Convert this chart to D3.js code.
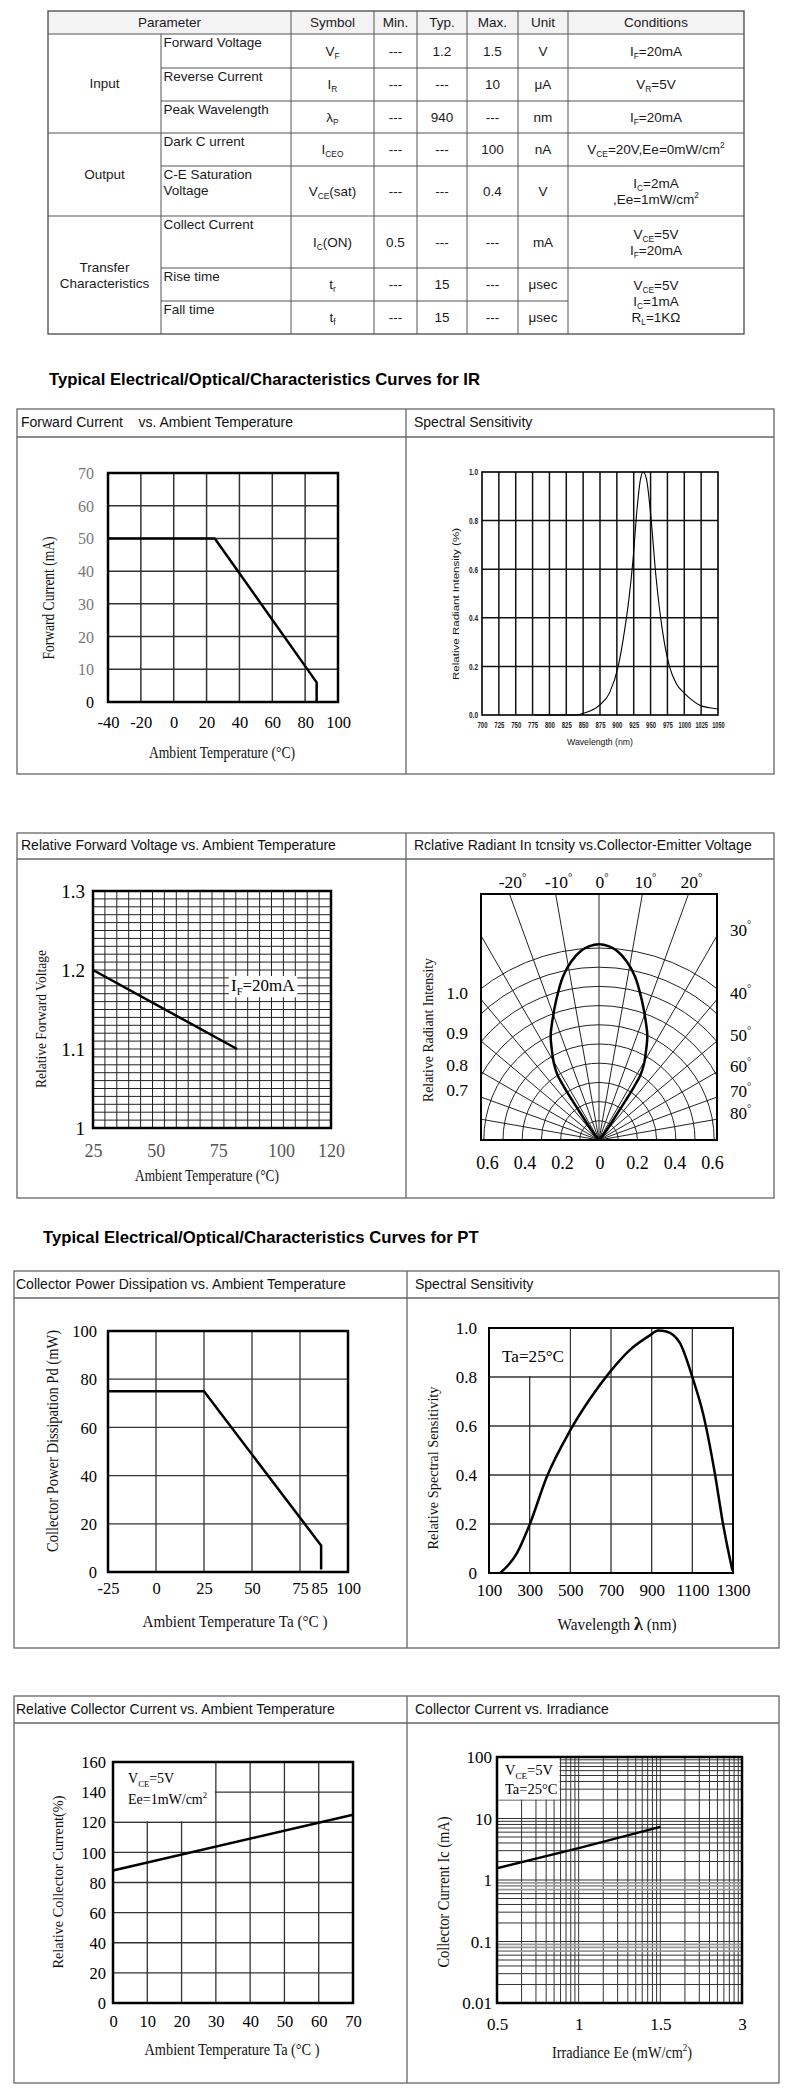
<!DOCTYPE html>
<meta charset="utf-8">
<body style="margin:0;background:#fff">
<script src="https://d3js.org/d3.v7.min.js"></script>
<div id="sheet"></div>
<script>

// ---------- table data ----------
var tableHead = ["Parameter", "Symbol", "Min.", "Typ.", "Max.", "Unit", "Conditions"];
var groupNames = ["Input", "Output", "Transfer|Characteristics"];
var groupSpans = [3, 2, 3];
var paramNames = ["Forward Voltage", "Reverse Current", "Peak Wavelength", "Dark C urrent",
                  "C-E Saturation|Voltage", "Collect Current", "Rise time", "Fall time"];
var symbols = ["V_{F}", "I_{R}", "λ_{P}", "I_{CEO}", "V_{CE}(sat)", "I_{C}(ON)", "t_{r}", "t_{f}"];
var minVals = ["---", "---", "---", "---", "---", "0.5", "---", "---"];
var typVals = ["1.2", "---", "940", "---", "---", "---", "15", "15"];
var maxVals = ["1.5", "10", "---", "100", "0.4", "---", "---", "---"];
var units = ["V", "μA", "nm", "nA", "V", "mA", "μsec", "μsec"];
var conditions = ["I_{F}=20mA", "V_{R}=5V", "I_{F}=20mA", "V_{CE}=20V,Ee=0mW/cm^{2}",
                  "I_{C}=2mA|,Ee=1mW/cm^{2}", "V_{CE}=5V|I_{F}=20mA", "V_{CE}=5V|I_{C}=1mA|R_{L}=1KΩ"];
var conditionSpans = [1, 1, 1, 1, 1, 1, 2];

// ---------- chart data ----------
// IR: forward current vs ambient temperature
var fcTemp = [-40, 25, 87, 87];
var fcCurrent = [50, 50, 6, 0];
var fcTicksX = [-40, -20, 0, 20, 40, 60, 80, 100];
var fcTicksY = [0, 10, 20, 30, 40, 50, 60, 70];

// IR: spectral sensitivity
var irWave = [778, 840, 850, 874, 889, 902, 911, 918, 924, 930, 935, 939, 944, 950, 958, 968, 978, 988, 1000, 1012, 1023, 1037, 1050];
var irRel  = [0, 0, 0.007, 0.04, 0.09, 0.2, 0.34, 0.48, 0.64, 0.85, 0.97, 1.0, 0.97, 0.83, 0.57, 0.34, 0.2, 0.13, 0.09, 0.06, 0.04, 0.03, 0.025];
var irTicksX = [700, 725, 750, 775, 800, 825, 850, 875, 900, 925, 950, 975, 1000, 1025, 1050];
var irTicksY = [0, 0.2, 0.4, 0.6, 0.8, 1.0];

// IR: relative forward voltage vs ambient temperature
var fvTemp = [25, 82.5];
var fvRel = [1.2, 1.1];
var fvTicksX = [25, 50, 75, 100, 120];
var fvTicksY = [1, 1.1, 1.2, 1.3];

// IR: radiation diagram (one side, mirrored)
var lobeAngle = [0, 3, 5.4, 8.9, 12.5, 17.1, 21.7, 24.8, 27.6, 30.6, 32.6, 33.4, 34, 34.7, 37.9, 40];
var lobeRel   = [1.02, 1.01, 0.99, 0.94, 0.87, 0.76, 0.66, 0.6, 0.53, 0.46, 0.4, 0.33, 0.25, 0.165, 0.06, 0];
var polTopAngles = [-20, -10, 0, 10, 20];
var polRightAngles = [30, 40, 50, 60, 70, 80];
var polLeftTicks = [0.7, 0.8, 0.9, 1.0];
var polBottomTicks = [-0.6, -0.4, -0.2, 0, 0.2, 0.4, 0.6];

// PT: collector power dissipation vs ambient temperature
var pdTemp = [-25, 25, 86, 86];
var pdPower = [75, 75, 11, 1];
var pdTicksX = [-25, 0, 25, 50, 75, 85, 100];
var pdTicksY = [0, 20, 40, 60, 80, 100];

// PT: spectral sensitivity
var ptWave = [155, 236, 301, 383, 498, 596, 694, 792, 891, 932, 972, 1038, 1100, 1153, 1210, 1251, 1297];
var ptRel  = [0, 0.079, 0.2, 0.39, 0.58, 0.71, 0.82, 0.91, 0.97, 0.99, 0.986, 0.94, 0.8, 0.65, 0.41, 0.2, 0.01];
var ptTicksX = [100, 300, 500, 700, 900, 1100, 1300];
var ptTicksY = [0, 0.2, 0.4, 0.6, 0.8, 1.0];

// PT: relative collector current vs ambient temperature
var rcTemp = [0, 70];
var rcRel = [88, 125];
var rcTicksX = [0, 10, 20, 30, 40, 50, 60, 70];
var rcTicksY = [0, 20, 40, 60, 80, 100, 120, 140, 160];

// PT: collector current vs irradiance
var irrEe = [0.5, 1, 1.5];
var irrIc = [1.55, 3.3, 7.3];
var irrTicksX = [0.5, 1, 1.5, 3];
var irrTicksY = [0.01, 0.1, 1, 10, 100];

// ---------- setup ----------
var SERIF = "'Liberation Serif','Times New Roman',serif";
var SANS = "'Liberation Sans',Arial,sans-serif";

var svg = d3.select("#sheet").append("svg")
  .attr("width", 790).attr("height", 2094).style("display", "block");
svg.append("rect").attr("width", 790).attr("height", 2094).attr("fill", "#fff");

// text with _{sub} and ^{sup}
function rich(t, str, fs) {
  var off = 0;
  str.split(/(_\{[^}]*\}|\^\{[^}]*\})/).forEach(function(p) {
    if (!p) return;
    var target = 0, s = p, small = false;
    if (p.slice(0, 2) === "_{") { target = fs * 0.25; s = p.slice(2, -1); small = true; }
    else if (p.slice(0, 2) === "^{") { target = -fs * 0.42; s = p.slice(2, -1); small = true; }
    var ts = t.append("tspan").attr("dy", target - off).text(s);
    if (small) ts.attr("font-size", fs * 0.62);
    off = target;
  });
  return t;
}

// ---------- table ----------
var colX = [48, 161, 291, 374, 417, 467, 518, 568, 744];
var rowY = [11, 34, 68, 101, 133, 166, 216, 268, 301, 334];
var TFS = 13.5;
var tb = svg.append("g").attr("font-family", SANS).attr("font-size", TFS).attr("fill", "#1a1a1a");

tb.append("rect").attr("x", colX[0]).attr("y", rowY[0])
  .attr("width", colX[8] - colX[0]).attr("height", rowY[1] - rowY[0]).attr("fill", "#f3f3f3");

var headEdges = [colX[0]].concat(colX.slice(2));
tableHead.forEach(function(h, i) {
  tb.append("text").attr("x", (headEdges[i] + headEdges[i + 1]) / 2).attr("y", 27)
    .attr("text-anchor", "middle").text(h);
});

function lines(str) { return str.split("|"); }

// group cells
var r0 = 0;
groupNames.forEach(function(gname, i) {
  var top = rowY[1 + r0], bot = rowY[1 + r0 + groupSpans[i]];
  var ls = lines(gname);
  ls.forEach(function(l, j) {
    tb.append("text").attr("x", (colX[0] + colX[1]) / 2)
      .attr("y", (top + bot) / 2 + 4.5 - (ls.length - 1) * 8 + j * 16)
      .attr("text-anchor", "middle").text(l);
  });
  r0 += groupSpans[i];
});

// body rows
var rowCols = [symbols, minVals, typVals, maxVals, units];
paramNames.forEach(function(p, i) {
  var top = rowY[i + 1], bot = rowY[i + 2];
  lines(p).forEach(function(l, j) {
    tb.append("text").attr("x", colX[1] + 2.5).attr("y", top + 13 + j * 16).text(l);
  });
  rowCols.forEach(function(arr, c) {
    var t = tb.append("text").attr("x", (colX[c + 2] + colX[c + 3]) / 2)
      .attr("y", (top + bot) / 2 + 4.5).attr("text-anchor", "middle");
    rich(t, arr[i], TFS);
  });
});

// conditions
var rc = 0;
conditions.forEach(function(cstr, i) {
  var top = rowY[1 + rc], bot = rowY[1 + rc + conditionSpans[i]];
  var ls = lines(cstr);
  ls.forEach(function(l, j) {
    var t = tb.append("text").attr("x", (colX[7] + colX[8]) / 2)
      .attr("y", (top + bot) / 2 + 4.5 - (ls.length - 1) * 8 + j * 16)
      .attr("text-anchor", "middle");
    rich(t, l, TFS);
  });
  rc += conditionSpans[i];
});

// table rules
var tl = svg.append("g").attr("stroke", "#555").attr("stroke-width", 1);
tl.append("line").attr("x1", colX[0]).attr("x2", colX[8]).attr("y1", rowY[1]).attr("y2", rowY[1]);
for (var k = 2; k <= 8; k++) {
  var full = (k === 4 || k === 6);
  var xr = (k === 8) ? colX[7] : colX[8];
  tl.append("line").attr("x1", full ? colX[0] : colX[1]).attr("x2", xr)
    .attr("y1", rowY[k]).attr("y2", rowY[k]);
}
tl.append("line").attr("x1", colX[1]).attr("x2", colX[1]).attr("y1", rowY[1]).attr("y2", rowY[9]);
for (var c = 2; c <= 7; c++) {
  tl.append("line").attr("x1", colX[c]).attr("x2", colX[c]).attr("y1", rowY[0]).attr("y2", rowY[9]);
}
tl.append("rect").attr("x", colX[0]).attr("y", rowY[0]).attr("width", colX[8] - colX[0])
  .attr("height", rowY[9] - rowY[0]).attr("fill", "none").attr("stroke-width", 1.4);

// ---------- section titles ----------
svg.append("text").attr("x", 49).attr("y", 385).attr("font-family", SANS).attr("font-weight", "bold")
  .attr("font-size", 16.7).text("Typical Electrical/Optical/Characteristics Curves for IR");
svg.append("text").attr("x", 43).attr("y", 1243).attr("font-family", SANS).attr("font-weight", "bold")
  .attr("font-size", 16.7).text("Typical Electrical/Optical/Characteristics Curves for PT");

// ---------- panel frames ----------
function frameRow(x0, xm, x2, y0, yt, y1, t1, t2, pad1) {
  var g = svg.append("g");
  g.append("rect").attr("x", x0).attr("y", y0).attr("width", x2 - x0).attr("height", y1 - y0)
    .attr("fill", "none").attr("stroke", "#666").attr("stroke-width", 1.3);
  g.append("line").attr("x1", x0).attr("x2", x2).attr("y1", yt).attr("y2", yt)
    .attr("stroke", "#666").attr("stroke-width", 1.3);
  g.append("line").attr("x1", xm).attr("x2", xm).attr("y1", y0).attr("y2", y1)
    .attr("stroke", "#666").attr("stroke-width", 1.3);
  var by = y0 + 0.65 * (yt - y0);
  g.append("text").attr("x", x0 + pad1).attr("y", by).attr("font-family", SANS).attr("font-size", 14)
    .attr("fill", "#111").style("white-space", "pre").text(t1);
  g.append("text").attr("x", xm + 8).attr("y", by).attr("font-family", SANS).attr("font-size", 14)
    .attr("fill", "#111").style("white-space", "pre").text(t2);
}
frameRow(17, 406, 774, 409, 437, 774, "Forward Current    vs. Ambient Temperature", "Spectral Sensitivity", 4);
frameRow(17, 406, 774, 833, 859, 1198, "Relative Forward Voltage vs. Ambient Temperature",
         "Rclative Radiant In tcnsity vs.Collector-Emitter Voltage", 4);
frameRow(14, 407, 779, 1271, 1298, 1648, "Collector Power Dissipation vs. Ambient Temperature", "Spectral Sensitivity", 2);
frameRow(14, 407, 779, 1696, 1723, 2083, "Relative Collector Current vs. Ambient Temperature", "Collector Current vs. Irradiance", 2);

// ---------- chart helpers ----------
function vgrid(g, x, vals, y0, y1, color, w) {
  g.append("g").selectAll("line").data(vals).join("line")
    .attr("x1", function(d) { return x(d); }).attr("x2", function(d) { return x(d); })
    .attr("y1", y0).attr("y2", y1).attr("stroke", color).attr("stroke-width", w);
}
function hgrid(g, y, vals, x0, x1, color, w) {
  g.append("g").selectAll("line").data(vals).join("line")
    .attr("y1", function(d) { return y(d); }).attr("y2", function(d) { return y(d); })
    .attr("x1", x0).attr("x2", x1).attr("stroke", color).attr("stroke-width", w);
}
function frame(g, xr, yr, w) {
  g.append("rect").attr("x", xr[0]).attr("y", yr[1]).attr("width", xr[1] - xr[0])
    .attr("height", yr[0] - yr[1]).attr("fill", "none").attr("stroke", "#000").attr("stroke-width", w);
}
function labelsBottom(g, scale, vals, y, fs, fmt, color, family) {
  var a = g.append("g").attr("transform", "translate(0," + y + ")")
    .call(d3.axisBottom(scale).tickValues(vals).tickSize(0).tickPadding(0).tickFormat(fmt || String));
  a.select(".domain").remove();
  a.attr("font-family", family || SERIF).attr("font-size", fs).style("color", color || "#000");
  a.selectAll("text").attr("dy", null).attr("y", 0);
  return a;
}
function labelsLeft(g, scale, vals, x, fs, fmt, color, family) {
  var a = g.append("g").attr("transform", "translate(" + x + ",0)")
    .call(d3.axisLeft(scale).tickValues(vals).tickSize(0).tickPadding(0).tickFormat(fmt || String));
  a.select(".domain").remove();
  a.attr("font-family", family || SERIF).attr("font-size", fs).style("color", color || "#000");
  a.selectAll("text").attr("x", 0).attr("dy", "0.34em");
  return a;
}
function axTitle(g, str, x, y, fs, len, rot, family) {
  var t = g.append("text").attr("font-family", family || SERIF).attr("font-size", fs)
    .attr("text-anchor", "middle").attr("fill", "#111")
    .attr("transform", "translate(" + x + "," + y + ")" + (rot ? " rotate(-90)" : ""));
  rich(t, str, fs);
  if (len) t.attr("textLength", len).attr("lengthAdjust", "spacingAndGlyphs");
  return t;
}
function curve(g, xs, ys, x, y, w, cv) {
  g.append("path").datum(d3.zip(xs, ys))
    .attr("d", d3.line().x(function(d) { return x(d[0]); }).y(function(d) { return y(d[1]); })
      .curve(cv || d3.curveLinear))
    .attr("fill", "none").attr("stroke", "#000").attr("stroke-width", w)
    .attr("stroke-linejoin", "round");
}

// ---------- chart 1: forward current ----------
var g1 = svg.append("g");
var x1 = d3.scaleLinear().domain([-40, 100]).range([108, 338]);
var y1 = d3.scaleLinear().domain([0, 70]).range([702, 473]);
vgrid(g1, x1, fcTicksX.slice(1, -1), 702, 473, "#333", 1.5);
hgrid(g1, y1, fcTicksY.slice(1, -1), 108, 338, "#333", 1.5);
frame(g1, x1.range(), y1.range(), 2.5);
curve(g1, fcTemp, fcCurrent, x1, y1, 2.5);
labelsLeft(g1, y1, fcTicksY, 94, 16, null, "#777").selectAll("text")
  .filter(function(d) { return d === 0; }).attr("fill", "#000");
labelsBottom(g1, x1, fcTicksX, 728, 16.5);
axTitle(g1, "Ambient Temperature (°C)", 222, 758, 16, 146);
axTitle(g1, "Forward Current (mA)", 54, 598, 16, 123, true);

// ---------- chart 2: IR spectral ----------
var g2 = svg.append("g");
var x2 = d3.scaleLinear().domain([700, 1050]).range([482, 718]);
var y2 = d3.scaleLinear().domain([0, 1]).range([715, 472]);
vgrid(g2, x2, irTicksX.slice(1, -1), 715, 472, "#111", 1.5);
hgrid(g2, y2, irTicksY.slice(1, -1), 482, 718, "#111", 1.5);
frame(g2, x2.range(), y2.range(), 1.6);
curve(g2, irWave, irRel, x2, y2, 1.1, d3.curveMonotoneX);
labelsBottom(g2, x2, irTicksX, 728, 8.5, null, "#222", SANS).attr("font-weight", "bold")
  .selectAll("text").attr("textLength", function(d) { return d >= 1000 ? 12.5 : 10; })
  .attr("lengthAdjust", "spacingAndGlyphs");
labelsLeft(g2, y2, irTicksY, 478, 8.5, d3.format(".1f"), "#222", SANS).attr("font-weight", "bold")
  .selectAll("text").attr("textLength", 9).attr("lengthAdjust", "spacingAndGlyphs");
axTitle(g2, "Wavelength (nm)", 600, 745, 8.5, 66, false, SANS);
axTitle(g2, "Relative Radiant Intensity (%)", 459, 604, 9.5, 152, true, SANS);

// ---------- chart 3: relative forward voltage ----------
var g3 = svg.append("g");
var x3 = d3.scaleLinear().domain([25, 120]).range([93, 331]);
var y3 = d3.scaleLinear().domain([1, 1.3]).range([1128, 891]);
vgrid(g3, x3, d3.range(1, 20).map(function(i) { return 25 + i * 95 / 20; }), 1128, 891, "#222", 1);
hgrid(g3, y3, d3.range(1, 30).map(function(i) { return 1 + i * 0.01; }), 93, 331, "#222", 1);
var ifLbl = g3.append("text").attr("x", 231).attr("y", 991).attr("font-family", SERIF).attr("font-size", 17);
rich(ifLbl, "I_{F}=20mA", 17);
var bb = ifLbl.node().getBBox();
g3.insert("rect", "text").attr("x", bb.x - 2).attr("y", bb.y).attr("width", bb.width + 4)
  .attr("height", bb.height).attr("fill", "#fff");
frame(g3, x3.range(), y3.range(), 2.5);
curve(g3, fvTemp, fvRel, x3, y3, 2.5);
labelsLeft(g3, y3, fvTicksY, 85, 19, function(d) { return d === 1 ? "1" : d.toFixed(1); });
labelsBottom(g3, x3, fvTicksX, 1157, 18, null, "#555");
axTitle(g3, "Ambient Temperature (°C)", 207, 1181, 16, 144);
axTitle(g3, "Relative Forward Voltage", 46, 1019, 15, 138, true);

// ---------- chart 4: radiation diagram ----------
var g4 = svg.append("g");
var pL = 481, pR = 717, pT = 894, pB = 1140, cx = (pL + pR) / 2, cy = pB;
var polR = d3.scaleLinear().domain([0, 1]).range([0, 192]);
svg.append("defs").append("clipPath").attr("id", "polclip")
  .append("rect").attr("x", pL).attr("y", pT).attr("width", pR - pL).attr("height", pB - pT);
var pg = g4.append("g").attr("clip-path", "url(#polclip)");
pg.selectAll("circle").data(d3.range(1, 11).map(function(i) { return i / 10; })).join("circle")
  .attr("cx", cx).attr("cy", cy).attr("r", function(d) { return polR(d); })
  .attr("fill", "none").attr("stroke", "#222").attr("stroke-width", 1);
pg.selectAll("line").data(d3.range(-90, 91, 10)).join("line")
  .attr("x1", cx).attr("y1", cy)
  .attr("x2", function(d) { return cx + 400 * Math.sin(d * Math.PI / 180); })
  .attr("y2", function(d) { return cy - 400 * Math.cos(d * Math.PI / 180); })
  .attr("stroke", "#222").attr("stroke-width", 1);
var lobePts = [];
for (var li = lobeAngle.length - 1; li > 0; li--) lobePts.push([-lobeAngle[li], lobeRel[li]]);
for (var lj = 0; lj < lobeAngle.length; lj++) lobePts.push([lobeAngle[lj], lobeRel[lj]]);
g4.append("path").datum(lobePts)
  .attr("transform", "translate(" + cx + "," + cy + ")")
  .attr("d", d3.lineRadial().angle(function(d) { return d[0] * Math.PI / 180; })
    .radius(function(d) { return polR(d[1]); }).curve(d3.curveCatmullRom.alpha(0.5)))
  .attr("fill", "none").attr("stroke", "#000").attr("stroke-width", 2.5);
frame(g4, [pL, pR], [pB, pT], 2);
polTopAngles.forEach(function(a) {
  var t = g4.append("text").attr("x", cx + (cy - pT) * Math.tan(a * Math.PI / 180) + 3).attr("y", 888)
    .attr("font-family", SERIF).attr("font-size", 17.5).attr("text-anchor", "middle");
  rich(t, a + "^{°}", 17.5);
});
polRightAngles.forEach(function(a) {
  var t = g4.append("text").attr("x", 730).attr("y", cy - (pR - cx) / Math.tan(a * Math.PI / 180))
    .attr("font-family", SERIF).attr("font-size", 17);
  rich(t, a + "^{°}", 17);
});
var polLeft = d3.scalePow().exponent(3).domain([0, 1]).range([cy, 993]);
labelsLeft(g4, polLeft, polLeftTicks, 468, 17.5, d3.format(".1f"));
var polX = d3.scaleLinear().domain([-0.6, 0.6]).range([487, 712]);
labelsBottom(g4, polX, polBottomTicks, 1169, 18, function(d) { return d === 0 ? "0" : Math.abs(d).toFixed(1); });
axTitle(g4, "Relative Radiant Intensity", 433, 1030, 14, 144, true);

// ---------- chart 5: power dissipation ----------
var g5 = svg.append("g");
var x5 = d3.scaleLinear().domain([-25, 100]).range([108, 348]);
var y5 = d3.scaleLinear().domain([0, 100]).range([1572, 1331]);
vgrid(g5, x5, [0, 25, 50, 75], 1572, 1331, "#333", 1.3);
hgrid(g5, y5, [20, 40, 60, 80], 108, 348, "#333", 1.3);
frame(g5, x5.range(), y5.range(), 2.5);
curve(g5, pdTemp, pdPower, x5, y5, 2.5);
labelsLeft(g5, y5, pdTicksY, 97, 16.5);
labelsBottom(g5, x5, pdTicksX, 1594, 16.5);
axTitle(g5, "Ambient Temperature Ta (°C  )", 235, 1627, 16, 185);
axTitle(g5, "Collector Power Dissipation Pd (mW)", 58, 1441, 16, 222, true);

// ---------- chart 6: PT spectral ----------
var g6 = svg.append("g");
var x6 = d3.scaleLinear().domain([100, 1300]).range([489, 733]);
var y6 = d3.scaleLinear().domain([0, 1]).range([1573, 1328]);
vgrid(g6, x6, ptTicksX.slice(1, -1), 1573, 1328, "#333", 1.3);
hgrid(g6, y6, ptTicksY.slice(1, -1), 489, 733, "#333", 1.3);
g6.append("rect").attr("x", x6(100) + 1).attr("y", y6(1) + 1)
  .attr("width", x6(500) - x6(100) - 2).attr("height", y6(0.8) - y6(1) - 2).attr("fill", "#fff");
g6.append("text").attr("x", 502).attr("y", 1362).attr("font-family", SERIF).attr("font-size", 17)
  .attr("textLength", 62).attr("lengthAdjust", "spacingAndGlyphs").text("Ta=25°C");
frame(g6, x6.range(), y6.range(), 2);
curve(g6, ptWave, ptRel, x6, y6, 2.5, d3.curveMonotoneX);
labelsLeft(g6, y6, ptTicksY, 477, 17, function(d) { return d === 0 ? "0" : d.toFixed(1); });
labelsBottom(g6, x6, ptTicksX, 1596, 17);
var wt = g6.append("text").attr("font-family", SERIF).attr("font-size", 16).attr("text-anchor", "middle")
  .attr("x", 617).attr("y", 1630).attr("textLength", 119).attr("lengthAdjust", "spacingAndGlyphs").attr("fill", "#111");
wt.append("tspan").text("Wavelength ");
wt.append("tspan").attr("font-weight", "bold").attr("font-size", 19).text("λ");
wt.append("tspan").text("  (nm)");
axTitle(g6, "Relative Spectral Sensitivity", 438, 1468, 15, 163, true);

// ---------- chart 7: relative collector current ----------
var g7 = svg.append("g");
var x7 = d3.scaleLinear().domain([0, 70]).range([113, 353]);
var y7 = d3.scaleLinear().domain([0, 160]).range([2003, 1762]);
vgrid(g7, x7, rcTicksX.slice(1, -1), 2003, 1762, "#333", 1.3);
hgrid(g7, y7, rcTicksY.slice(1, -1), 113, 353, "#333", 1.3);
g7.append("rect").attr("x", x7(0) + 1).attr("y", y7(160) + 1)
  .attr("width", x7(30) - x7(0) - 2).attr("height", y7(120) - y7(160) - 2).attr("fill", "#fff");
rich(g7.append("text").attr("x", 128).attr("y", 1783).attr("font-family", SERIF).attr("font-size", 14), "V_{CE}=5V", 14);
rich(g7.append("text").attr("x", 128).attr("y", 1804).attr("font-family", SERIF).attr("font-size", 14), "Ee=1mW/cm^{2}", 14);
frame(g7, x7.range(), y7.range(), 2.5);
curve(g7, rcTemp, rcRel, x7, y7, 2.5);
labelsLeft(g7, y7, rcTicksY, 106, 16.5);
labelsBottom(g7, x7, rcTicksX, 2027, 16.5);
axTitle(g7, "Ambient Temperature Ta (°C )", 232, 2055, 16, 175);
axTitle(g7, "Relative Collector Current(%)", 63, 1882, 15, 173, true);

// ---------- chart 8: collector current vs irradiance ----------
var g8 = svg.append("g");
var paper = d3.scaleLog().domain([1, 1000]).range([497, 742]);
var y8 = d3.scaleLog().domain([0.01, 100]).range([2003, 1757]);
var x8 = d3.scaleLinear().domain(irrTicksX).range([paper(1), paper(10), paper(100), paper(1000)]);
var logLines = [];
[1, 10, 100].forEach(function(dec) { d3.range(2, 10).forEach(function(m) { logLines.push(m * dec); }); });
logLines.push(10, 100);
var yLines = [];
[0.01, 0.1, 1, 10].forEach(function(dec) { d3.range(2, 10).forEach(function(m) { yLines.push(m * dec); }); });
yLines.push(0.1, 1, 10);
vgrid(g8, paper, logLines, 2003, 1757, "#333", 1);
var grayLines = [0.07, 0.08, 0.09, 0.7, 0.8, 0.9];
hgrid(g8, y8, yLines.filter(function(v) { return grayLines.indexOf(+v.toFixed(2)) < 0; }), 497, 742, "#333", 1);
hgrid(g8, y8, grayLines, 497, 742, "#999", 1.8);
g8.append("rect").attr("x", paper(1) + 1).attr("y", y8(100) + 1)
  .attr("width", paper(6) - paper(1) - 2).attr("height", y8(20) - y8(100) - 1.5).attr("fill", "#fff");
rich(g8.append("text").attr("x", 505).attr("y", 1775).attr("font-family", SERIF).attr("font-size", 14.5), "V_{CE}=5V", 14.5);
g8.append("text").attr("x", 505).attr("y", 1794).attr("font-family", SERIF).attr("font-size", 14.5).text("Ta=25°C");
frame(g8, paper.range(), y8.range(), 2.5);
curve(g8, irrEe, irrIc, x8, y8, 2.5);
labelsLeft(g8, y8, irrTicksY, 492, 17);
labelsBottom(g8, x8, irrTicksX, 2030, 17);
axTitle(g8, "Irradiance Ee (mW/cm^{2})", 622, 2058, 16, 140);
axTitle(g8, "Collector Current Ic (mA)", 449, 1892, 16, 151, true);

</script>
</body>
